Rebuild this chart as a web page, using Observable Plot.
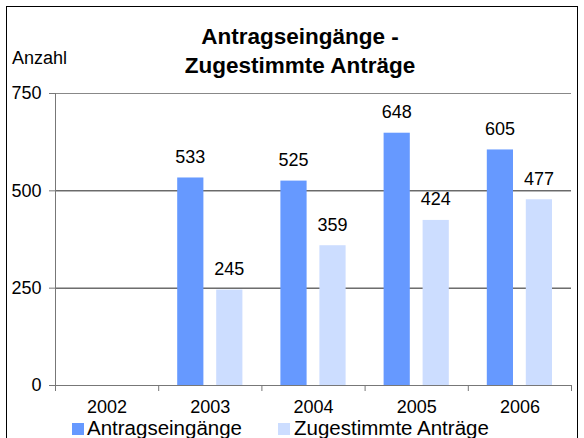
<!DOCTYPE html>
<html>
<head>
<meta charset="utf-8">
<script src="https://cdn.jsdelivr.net/npm/d3@7"></script>
<script src="https://cdn.jsdelivr.net/npm/@observablehq/plot@0.6"></script>
<style>
  html, body { margin: 0; padding: 0; background: #fff; }
  #wrap { position: relative; width: 584px; height: 438px; overflow: hidden; background: #fff;
          font-family: Arial, "Liberation Sans", sans-serif; color: #000; }
  #frame { position: absolute; left: 6px; top: 6px; width: 572px; height: 460px; border: 1px solid #000; box-sizing: border-box; }
  #chart { position: absolute; left: 0; top: 0; }
  .title { position: absolute; left: 0; width: 600px; text-align: center; font-weight: bold; font-size: 22.5px; white-space: nowrap; }
  .lbl { position: absolute; font-size: 18px; white-space: nowrap; }
  .leg { position: absolute; font-size: 20.5px; white-space: nowrap; }
  .sw { position: absolute; width: 12px; height: 12px; }
</style>
</head>
<body>
<div id="wrap">
  <div id="frame"></div>
  <div id="chart"></div>
  <div class="title" id="t1" style="top:24px;"></div>
  <div class="title" id="t2" style="top:53px;"></div>
  <div class="lbl" id="ylab" style="left:12px; top:48px;"></div>
  <div class="sw" id="sw0" style="left:72px; top:423px;"></div>
  <div class="leg" id="lg0" style="left:87px; top:416px;"></div>
  <div class="sw" id="sw1" style="left:278px; top:423px;"></div>
  <div class="leg" id="lg1" style="left:294px; top:416px;"></div>
</div>
<script>
const titleLines = ["Antragseingänge -", "Zugestimmte Anträge"];
const yLabel = "Anzahl";
const years = [2002, 2003, 2004, 2005, 2006];
const antrag = [null, 533, 525, 648, 605];
const zugestimmt = [null, 245, 359, 424, 477];
const yTicks = [0, 250, 500, 750];
const series = ["Antragseingänge", "Zugestimmte Anträge"];
const colors = ["#6699FF", "#CCDDFF"];

document.getElementById("t1").textContent = titleLines[0];
document.getElementById("t2").textContent = titleLines[1];
document.getElementById("ylab").textContent = yLabel;
document.getElementById("lg0").textContent = series[0];
document.getElementById("lg1").textContent = series[1];
document.getElementById("sw0").style.background = colors[0];
document.getElementById("sw1").style.background = colors[1];

const rowsA = years.map((y, i) => ({year: y, value: antrag[i]})).filter(d => d.value != null);
const rowsZ = years.map((y, i) => ({year: y, value: zugestimmt[i]})).filter(d => d.value != null);
const boundaries = years.map(y => y - 0.5).concat([years[years.length - 1] + 0.5]);

const chart = Plot.plot({
  width: 584,
  height: 438,
  marginLeft: 55,
  marginRight: 13,
  marginTop: 93,
  marginBottom: 53,
  style: {fontFamily: "Arial, 'Liberation Sans', sans-serif", fontSize: "18px", color: "#000", background: "transparent"},
  x: {type: "linear", domain: [boundaries[0], boundaries[boundaries.length - 1]]},
  y: {domain: [0, 750]},
  marks: [
    Plot.ruleY([250, 500], {stroke: "#222", strokeWidth: 1}),
    Plot.ruleY([750], {stroke: "#888", strokeWidth: 1}),
    Plot.rectY(rowsA, {x1: d => d.year - 0.5, x2: d => d.year + 0.5, y: "value", fill: colors[0], insetLeft: 19, insetRight: 58}),
    Plot.rectY(rowsZ, {x1: d => d.year - 0.5, x2: d => d.year + 0.5, y: "value", fill: colors[1], insetLeft: 58, insetRight: 19}),
    Plot.text(rowsA, {x: "year", y: "value", text: d => String(d.value), dx: -20, dy: -15, lineAnchor: "bottom", fontSize: 18}),
    Plot.text(rowsZ, {x: "year", y: "value", text: d => String(d.value), dx: 19, dy: -15, lineAnchor: "bottom", fontSize: 18}),
    Plot.ruleX([boundaries[0]], {y1: 0, y2: 750, stroke: "#777"}),
    Plot.ruleY([0], {stroke: "#777"}),
    Plot.axisY({ticks: yTicks, tickSize: 6, tickPadding: 8, tickFormat: d => String(d), label: null, fontSize: 18, stroke: "#777"}),
    Plot.axisX({ticks: boundaries, tickSize: 6, tickFormat: () => "", label: null, stroke: "#777"}),
    Plot.axisX({ticks: years, tickSize: 0, tickPadding: 15, tickFormat: d => String(d), label: null, fontSize: 18})
  ]
});
document.getElementById("chart").appendChild(chart);
</script>
</body>
</html>
